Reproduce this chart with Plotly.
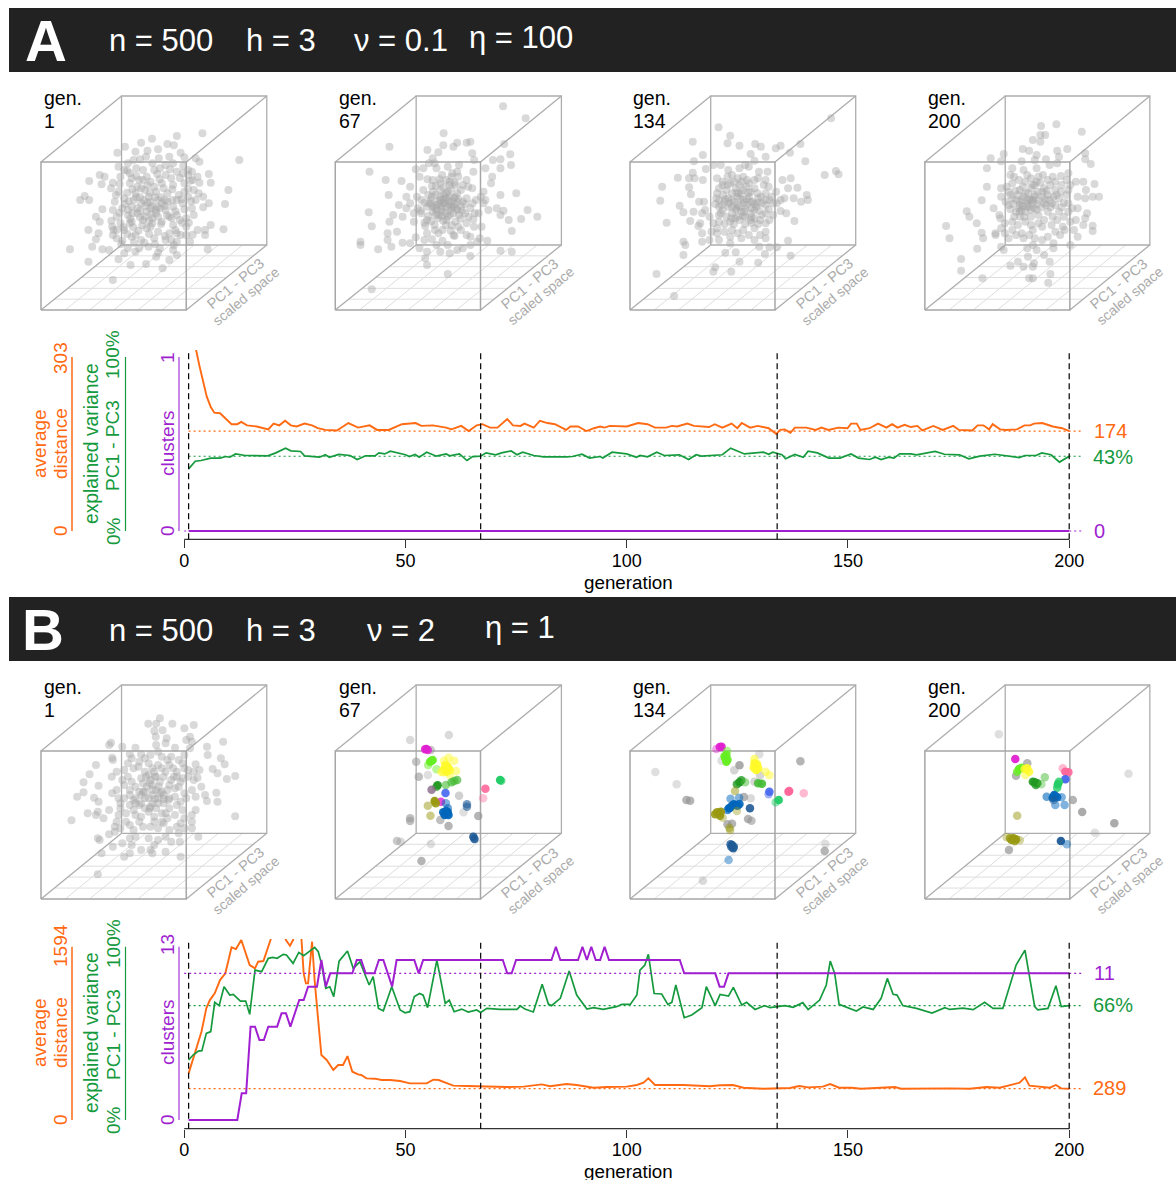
import plotly.graph_objects as go

W, H = 1176, 1180
ORANGE, GREEN, PURPLE = "#FF6A13", "#169A3E", "#A01FD0"
FONT = "Liberation Sans"

generations = [1, 67, 134, 200]
x_ticks = [0, 50, 100, 150, 200]

a_distance = [(1,420),(2,360),(2.7,315),(3.4,289),(4.3,257),(5.1,234),(6,216),(6.8,206),(8.1,205),(9.4,196),(10.7,186),(12,186),(12.9,190),(14.2,184),(16.4,182),(19,177),(20.2,187),(21.5,184),(22.8,192),(24.1,184),(25.4,182),(27.2,187),(28.9,184),(30.2,179),(31.9,176),(34.5,175),(37.1,188),(39.3,180),(41.9,184),(43.6,176),(46.2,176),(49.2,186),(52.3,188),(53.6,183),(56.2,184),(59.2,180),(60.4,177),(62.6,183),(64.3,174),(66.1,184),(67.4,186),(69.1,180),(70.8,180),(73,195),(74.3,184),(76,183),(76.9,187),(79,180),(80.4,192),(82.1,188),(83.8,186),(86.3,176),(87.3,182),(89,182),(90.9,174),(92.6,179),(94,182),(95,180),(96.2,183),(100,182),(102.6,188),(104.7,186),(106.4,180),(108.9,180),(110.2,183),(111.4,182),(113.7,187),(115.2,183),(118.6,181),(119.9,186),(121.6,180),(123.7,187),(125,179),(126,188),(127.9,180),(129.6,183),(132.1,179),(133.8,169),(134.7,176),(135.7,177),(137,171),(138,180),(140.6,180),(142.7,176),(144,180),(145.6,176),(147.8,180),(149.9,179),(150.7,187),(152,187),(152.8,176),(154.9,179),(156.8,187),(158.7,180),(160,186),(161.2,180),(162.8,185),(164.2,181),(165.7,183),(166.8,175),(169.3,183),(171.4,176),(173.8,183),(175.1,176),(178.1,175),(179.3,184),(180.6,184),(181.9,177),(182.7,186),(184.4,177),(185.7,176),(188.2,177),(189.9,184),(191.2,184),(192,187),(193.9,188),(196.3,182),(198.4,179),(200,174)]
a_variance = [(1,35.7),(2.5,40.1),(3.8,40.5),(6,41.9),(8.1,41.9),(9.4,42.8),(10.3,42.4),(11.6,44.3),(13.8,43.4),(18.9,43.2),(20.7,44.9),(22.9,47.6),(24.1,46.1),(26.3,45.7),(27.2,43.2),(30.6,42.4),(31.9,43.8),(32.8,42.4),(34.9,44),(37.5,43.4),(39.1,41.1),(41,43.2),(43.1,43.2),(44,44.9),(45.3,44.3),(46.6,45.9),(50,43.8),(50.9,42.8),(52.2,44),(53.1,42.4),(54.8,45.3),(57,43),(59.2,44.3),(60,43.2),(62.2,44.3),(63.9,40.5),(65.2,42.8),(67,43),(68.2,44.9),(70.4,43.8),(71.7,44.9),(73.9,46),(75.2,43.8),(76.5,45.3),(79,43.4),(81.2,42.6),(86.4,42.6),(87.7,42.8),(89.9,44.1),(91.6,41.9),(94,42.8),(94.6,41.9),(96.7,45.3),(100,44.3),(102.2,42.4),(103,43.4),(104.7,42.6),(106.8,45.3),(108.5,43.4),(111.9,43.8),(114,41.1),(115.7,43.8),(116.9,43),(120.3,43.4),(121.6,43.8),(123.5,47.6),(126.6,44.3),(130.9,45.3),(132.1,44.1),(133,45.3),(135.1,43.8),(135.9,41.5),(138,44),(139.9,42.4),(141,45.9),(143.1,44.9),(145.7,41.9),(148.2,41.9),(150.7,44.3),(152.4,41.9),(154.9,41.1),(156.2,42.4),(157.5,41.1),(159.2,42.4),(160.4,41.9),(161.7,44.3),(164.2,44.3),(165.5,43.8),(169.7,45.7),(171.8,44.1),(175.2,43.8),(177.3,41.5),(179.8,43),(183.2,44.1),(188.7,42.2),(190,43.4),(192.5,43.4),(193.8,44.9),(195.9,43.8),(197.8,39.6),(200,43)]
a_clusters = [(1,0),(200,0)]

b_distance = [(1,429),(2,567),(3.9,812),(5,1027),(5.8,1103),(6.9,1165),(8.1,1287),(9.3,1349),(10.7,1588),(11.7,1572),(12.9,1655),(14.8,1425),(16,1395),(16.7,1456),(17.9,1462),(19.5,1655),(20.1,1762),(21,1900),(22,1750),(23,1655),(23.9,1603),(24.6,1655),(25.5,1800),(26.5,1664),(27,1349),(27.5,1257),(28,1257),(28.9,1640),(29.5,1272),(30.3,873),(31,598),(32.2,552),(33.7,460),(34.8,506),(35.9,506),(36.9,588),(38,444),(39.3,420),(40,414),(41.2,383),(43.1,380),(44.6,368),(46.5,368),(48.8,359),(51,337),(54.8,337),(56.3,371),(57.5,368),(60.8,316),(63.9,313),(69.1,307),(72.9,303),(76.7,307),(80.8,328),(82.7,310),(86.4,331),(88.7,322),(92.5,297),(95.5,303),(100,307),(102.3,322),(103.8,343),(104.9,383),(106.4,322),(110.5,322),(112.8,322),(118.8,310),(121.1,319),(124,322),(126.4,297),(130.9,288),(134.3,294),(136.9,294),(139,313),(141,300),(144.3,307),(146,331),(148,297),(150.8,297),(153,288),(158.7,300),(160.6,303),(162,288),(167,291),(173,291),(177.5,288),(181.3,303),(184.3,297),(188.8,343),(190,392),(191,316),(195.6,297),(197,322),(198.2,291),(200,288)]
b_variance = [(1,34.6),(2,37.5),(3.2,39.8),(4,40),(5,50),(6,51),(6.9,67.9),(7.9,66),(9,76.9),(10.3,72.1),(11.1,72.5),(12.7,68.6),(13.9,68.6),(14.8,61),(16,86.5),(17.5,85.6),(19,93.3),(20,93.8),(21,93.3),(22.4,95.6),(23.1,95.2),(24.6,90.4),(25.9,96.7),(27,94.8),(29.5,99.6),(30.3,97.1),(31,90.4),(32,76),(32.9,76.9),(33.8,71.2),(35,91.7),(36.9,97.5),(38.2,87.5),(39.7,91.3),(41.8,77.9),(42.7,82.7),(43.9,64.4),(45,63),(46.9,76.9),(48.8,63.5),(49.9,61.9),(51,62.5),(52,71.2),(53.2,73),(54,72),(55,64.8),(57.1,92.3),(59,67.3),(59.9,69.2),(61,62.5),(62.7,64),(64.2,62.3),(66.1,63.5),(67,62.1),(68.4,64.4),(71.4,63.8),(75.2,63.8),(76,65.8),(77,64),(78.9,62.3),(80.9,78.3),(82.3,66.9),(83,66),(85,70.2),(87,86),(88.7,72.1),(91,64),(92.5,64.8),(94.7,63.8),(97.7,65.4),(98.9,66.7),(100.8,66.7),(102.3,72.1),(103,86.5),(104.1,89.4),(104.9,95.6),(106.2,73),(107.9,72.7),(109.3,66.7),(110.2,67.9),(111.1,77.9),(113,59),(114.7,60.6),(117,64.8),(118,76.9),(120,66),(121.1,72.5),(123,71.5),(124.1,76.5),(126,66.3),(127.1,67.9),(129,63.8),(131.2,66),(132.4,64.8),(135.8,66),(137.6,65),(139.8,67.7),(141,63.7),(143.6,69.2),(145.1,77.9),(146,91.7),(147,84.6),(148,66.7),(151.9,62.9),(153.4,65.2),(155.7,63.8),(157.5,70.2),(158.9,81.7),(160.2,72.5),(161.1,72.1),(162.4,66),(165.5,64.4),(169,61.7),(171.9,64.8),(173,63.8),(176,64.6),(178.3,63.7),(180.9,67.9),(182.8,64.4),(185,64.4),(188,89.4),(190,98),(192.2,65.4),(192.9,63.5),(195.2,64.4),(197,77.5),(198.2,65.4),(200,66)]
b_clusters = [(1,0),(12,0),(13,2),(14,2),(15,7),(16,7),(17,6),(18,6),(19,7),(21,7),(22,8),(23,8),(24,7),(26,9),(27,9),(28,10),(30,10),(31,12),(32,10),(33,11),(38,11),(39,12),(40,12),(41,11),(43,11),(44,12),(45,12),(47,10),(48,12),(52,12),(53,11),(54,12),(72,12),(73,11),(74,11),(75,12),(83,12),(84,13),(85,12),(89,12),(90,13),(91,12),(92,13),(93,12),(94,12),(95,13),(96,12),(112,12),(113,11),(120,11),(121,10),(122,10),(123,11),(200,11)]

a1_points = [(538,400),(470,408),(404,416),(375,428),(332,440),(445,432),(462,436),(420,448),(392,452),(360,455),(312,458),(480,458),(388,470),(355,480),(422,475),(450,470),(490,472),(520,475),(636,480),(340,490),(315,500),(372,478),(405,490),(440,495),(460,490),(530,485),(510,515),(555,522),(265,525),(278,530),(237,543),(270,553),(300,548),(320,530),(345,520),(380,510),(410,510),(440,525),(470,515),(500,525),(525,530),(560,548),(607,570),(295,565),(315,575),(345,550),(370,540),(400,545),(430,550),(460,555),(490,550),(515,570),(540,590),(225,588),(213,600),(237,600),(305,605),(330,595),(360,580),(385,570),(415,575),(445,580),(475,585),(500,590),(520,600),(598,612),(555,610),(540,622),(272,628),(300,630),(325,625),(350,620),(375,610),(400,605),(430,610),(460,620),(485,610),(510,625),(255,650),(265,665),(310,650),(340,645),(365,640),(390,635),(415,640),(440,630),(470,645),(495,655),(515,645),(235,690),(298,680),(320,670),(350,665),(380,660),(405,670),(430,665),(460,675),(495,680),(525,690),(545,690),(560,675),(594,688),(262,700),(300,705),(330,690),(360,705),(390,685),(420,695),(450,700),(480,705),(545,705),(255,718),(310,715),(325,722),(350,710),(375,720),(410,715),(440,720),(470,725),(505,725),(186,748),(245,740),(272,748),(340,745),(370,745),(395,740),(425,745),(460,750),(552,748),(315,778),(235,785),(330,760),(360,755),(415,770),(470,765),(450,780),(347,795),(388,792),(432,805),(300,840),(290,750),
 (375,565),(395,590),(420,600),(445,605),(470,600),(490,575),(365,625),(385,650),(405,655),(425,625),(450,650),(400,625),(355,600),(410,560),(435,565),(455,535),(390,530),(365,560),(340,630),(400,680),(420,650),
 (338,512),(362,528),(418,522),(452,508),(487,498),(506,542),(530,548),(318,552),(352,568),(392,556),(424,538),(478,534),(500,566),(528,580),(308,585),(338,578),(372,592),(398,578),(428,592),(458,568),(482,598),(508,604),(332,612),(362,592),(386,618),(412,592),(438,618),(466,634),(490,628),(318,638),(346,656),(372,652),(396,662),(418,622),(444,646),(478,660),(502,668),(296,662),(328,682),(354,682),(378,676),(402,642),(428,672),(456,654),(484,668),(302,690),(338,702),(368,692),(396,702),(438,708),(466,690),(512,704),(322,732),(356,728),(384,728),(412,732),(462,735),(420,758),(382,600),(405,618),(352,640),(438,600),(372,632),(392,608),(414,630),(458,600),(342,604),(380,540),(350,535),(425,505),(486,520),(500,510),(362,505),(330,510),(512,540),(470,700),(345,670),(310,690),(455,720),(495,705)]
a2_points = [(1337,319),(1397,355),(1179,400),(1035,440),(1250,425),(1215,428),(1240,428),(1340,432),(1136,450),(1178,436),(1205,440),(1165,457),(1255,460),(1310,480),(1356,463),(1330,478),(1358,495),(1150,475),(1140,490),(1105,508),(982,515),(1125,505),(1155,490),(1220,495),(1260,480),(1290,505),(1330,505),(1025,540),(1067,543),(1090,560),(1115,530),(1150,540),(1175,525),(1200,530),(1215,515),(1240,540),(1258,515),(1308,530),(1305,550),(1033,585),(1080,590),(1125,570),(1150,575),(1170,550),(1195,555),(1225,570),(1255,565),(1285,575),(1330,585),(1372,580),(1090,610),(1120,600),(1145,600),(1170,590),(1190,575),(1210,590),(1240,595),(1265,600),(1285,610),(1060,615),(980,637),(1080,625),(1110,625),(1135,620),(1160,615),(1180,610),(1200,605),(1225,620),(1250,625),(1298,630),(1320,625),(1338,632),(1402,630),(1045,645),(1120,640),(1150,635),(1175,635),(1195,630),(1220,645),(1245,650),(1272,640),(1330,645),(1352,660),(1385,657),(1428,650),(1035,665),(1070,650),(1100,665),(1135,660),(1165,655),(1190,650),(1210,665),(1240,670),(988,679),(1055,695),(1130,678),(1155,675),(1185,675),(1225,690),(1260,680),(1280,680),(1360,693),(1030,700),(1105,712),(1135,700),(1165,700),(1205,705),(1240,705),(958,725),(958,735),(1030,720),(1070,728),(1090,730),(1115,745),(1160,735),(1190,735),(1230,745),(1275,715),(1295,722),(1250,735),(1005,748),(1040,740),(1135,755),(1170,755),(1195,760),(1215,750),(1250,768),(1330,752),(1360,755),(1130,775),(1135,795),(1190,822),(988,868),
 (1165,605),(1185,595),(1205,620),(1150,620),(1175,620),(1195,615),(1215,605),(1160,630),(1185,640),(1205,640),(1170,570),(1195,545),(1210,555),(1165,645),(1140,610),(1215,630),(1180,585),(1230,605),
 (1168,538),(1186,540),(1202,520),(1218,530),(1230,555),(1158,558),(1178,562),(1198,568),(1215,580),(1138,585),(1158,584),(1178,598),(1196,590),(1218,598),(1236,612),(1128,608),(1148,590),(1168,612),(1188,620),(1208,612),(1228,632),(1256,610),(1118,632),(1138,648),(1156,624),(1174,648),(1196,644),(1214,626),(1236,640),(1258,658),(1128,668),(1146,664),(1178,662),(1200,676),(1218,680),(1156,690),(1176,690),(1198,692),(1208,708),(1250,710),(1148,718),(1128,720),(1176,722),(1268,725),(1108,590),(1100,640),(1262,640),(1278,590),(1290,600),(1148,558),(1136,538),(1160,505),(1190,500),(1208,548),(1244,560),(1182,608),(1172,628),(1192,602),(1206,594),(1186,660),(1158,644),(1224,656),(1146,612),(1186,580),(1170,600),(1200,622)]
a3_points = [(645,355),(344,382),(375,407),(275,425),(368,430),(400,437),(442,432),(457,440),(510,437),(563,432),(497,445),(535,458),(302,465),(430,462),(470,470),(278,484),(330,495),(350,495),(415,495),(440,482),(576,484),(310,507),(370,510),(400,505),(425,500),(475,515),(452,515),(628,525),(658,513),(665,523),(235,533),(265,535),(280,535),(302,540),(275,518),(340,535),(380,525),(410,530),(440,540),(470,540),(515,540),(537,535),(193,560),(265,562),(355,555),(385,545),(425,550),(465,555),(530,565),(270,583),(188,602),(292,605),(305,605),(340,580),(365,570),(390,565),(410,570),(440,565),(470,580),(498,575),(555,563),(580,585),(545,595),(565,605),(583,600),(240,617),(250,637),(277,635),(308,630),(345,600),(370,595),(395,590),(425,590),(450,595),(480,600),(520,595),(510,633),(525,640),(205,668),(268,663),(295,670),(345,620),(370,620),(395,615),(420,615),(445,620),(470,615),(547,663),(290,678),(340,685),(350,640),(380,640),(405,635),(430,640),(460,645),(490,645),(300,700),(340,700),(375,665),(400,660),(430,660),(470,670),(250,725),(255,735),(300,725),(320,720),(345,720),(380,690),(410,690),(440,685),(470,695),(375,710),(405,715),(440,720),(530,722),(375,730),(470,715),(250,765),(453,740),(480,742),(500,742),(390,757),(362,758),(400,785),(468,762),(537,767),(450,788),(335,802),(330,815),(378,815),(178,822),(225,888),
 (360,605),(385,605),(410,600),(435,605),(460,610),(380,580),(405,580),(430,575),(355,630),(390,630),(415,625),(440,630),(400,555),(375,550),(415,650),(440,655),(395,650),(470,600),(490,610),
 (355,545),(368,530),(395,535),(420,540),(450,535),(345,565),(368,555),(392,578),(418,560),(448,580),(478,560),(338,595),(356,585),(380,600),(402,598),(430,605),(458,590),(486,590),(335,612),(352,615),(372,610),(392,625),(412,608),(432,625),(452,632),(478,628),(500,610),(345,645),(365,650),(388,655),(410,648),(432,652),(455,660),(480,660),(360,672),(385,672),(415,672),(450,672),(345,665),(300,640),(320,650),(330,670),(360,695),(395,700),(425,705),(455,705),(325,695),(510,600),(470,640),(400,620),(420,598),(380,620),(440,612),(362,598),(398,580),(424,578),(450,608),(412,635),(378,655),(432,668),(405,545)]
a4_points = [(1207,378),(1248,373),(1205,405),(1218,405),(1316,395),(1205,425),(1185,420),(1158,447),(1175,452),(1195,465),(1250,452),(1277,447),(1325,460),(1107,462),(1072,475),(1325,478),(1340,492),(1100,484),(1155,484),(1190,480),(1220,478),(1255,470),(1062,505),(1130,505),(1160,510),(1195,505),(1230,495),(1250,490),(1125,525),(1170,525),(1200,530),(1225,540),(1280,520),(1320,545),(1350,552),(1062,560),(1100,565),(1130,550),(1165,545),(1195,545),(1245,545),(1275,540),(1300,545),(1327,570),(1120,575),(1150,570),(1180,565),(1215,565),(1245,570),(1280,570),(1100,590),(1130,595),(1160,590),(1190,590),(1225,585),(1255,595),(1305,590),(1325,595),(1345,590),(1362,590),(1048,601),(1080,625),(1120,615),(1150,615),(1185,610),(1215,610),(1245,615),(1280,610),(1305,625),(1008,634),(1015,650),(1095,645),(1140,635),(1165,635),(1195,630),(1225,635),(1255,635),(1280,635),(1330,640),(1098,655),(1150,650),(1180,650),(1215,660),(1250,660),(1300,660),(1325,655),(1035,670),(953,678),(1130,665),(1180,675),(1210,680),(1320,675),(1345,677),(1048,698),(1085,700),(1100,685),(1130,690),(1155,700),(1185,690),(1245,695),(1270,690),(1295,690),(1345,693),(962,715),(1052,715),(1085,705),(1120,715),(1160,715),(1190,715),(1210,720),(1240,730),(1305,710),(1100,740),(1185,735),(1240,745),(1285,735),(1036,746),(1107,750),(1170,745),(1195,750),(1172,770),(1215,765),(1230,785),(993,777),(1125,797),(1145,785),(1160,800),(1185,800),(1188,790),(993,812),(1050,835),(1175,835),(1185,835),(1232,822),(1226,848),
 (1140,600),(1170,600),(1200,600),(1230,600),(1155,630),(1175,620),(1210,575),(1190,555),(1165,580),(1240,590),(1260,575),(1150,605),(1180,630),
 (1135,530),(1148,540),(1180,535),(1212,525),(1238,530),(1260,528),(1115,560),(1138,572),(1158,560),(1185,555),(1205,548),(1232,555),(1262,555),(1285,555),(1125,585),(1145,585),(1172,578),(1198,575),(1222,572),(1248,585),(1275,585),(1112,605),(1132,612),(1156,600),(1176,598),(1196,612),(1218,598),(1236,610),(1268,608),(1125,628),(1148,625),(1170,612),(1188,625),(1208,622),(1232,622),(1262,622),(1290,625),(1135,650),(1162,650),(1200,645),(1238,650),(1268,650),(1145,675),(1165,665),(1200,670),(1235,675),(1285,665),(1110,670),(1265,680),(1110,700),(1140,705),(1175,705),(1225,710),(1258,705),(1180,600),(1158,618),(1220,615),(1190,585),(1150,635),(1168,620),(1185,600),(1210,590)]
b1_points = [(425,370),(394,386),(415,386),(458,386),(490,400),(515,390),(410,408),(432,406),(295,443),(290,450),(443,430),(495,435),(505,425),(414,425),(593,440),(510,440),(325,455),(360,458),(415,450),(440,445),(465,458),(505,460),(550,455),(375,478),(345,478),(298,488),(300,495),(400,480),(430,485),(455,485),(490,480),(552,480),(587,490),(255,510),(340,505),(370,500),(395,505),(420,510),(450,510),(485,505),(520,508),(565,522),(597,508),(238,538),(310,530),(355,520),(385,530),(410,530),(440,530),(470,530),(500,525),(530,525),(578,535),(625,543),(222,562),(262,572),(297,545),(340,545),(375,550),(400,555),(425,560),(455,555),(485,550),(515,555),(603,552),(222,592),(205,605),(250,608),(298,595),(330,570),(360,575),(390,575),(415,585),(445,585),(475,575),(510,585),(535,575),(575,593),(262,620),(315,610),(345,600),(375,600),(405,600),(435,600),(465,605),(495,610),(545,600),(550,618),(578,620),(233,655),(260,650),(290,645),(320,640),(345,630),(375,625),(405,625),(435,625),(470,630),(520,645),(190,676),(255,660),(275,670),(315,660),(360,660),(395,650),(430,655),(465,660),(510,660),(625,664),(305,695),(345,690),(370,680),(410,680),(435,685),(480,685),(510,680),(290,718),(320,700),(355,705),(400,695),(450,705),(490,700),(260,730),(265,735),(305,710),(345,730),(395,730),(440,725),(475,715),(527,725),(410,750),(325,745),(478,740),(300,755),(350,750),(375,765),(400,765),(440,770),(270,775),(330,785),(345,775),(405,775),(480,785),(260,838),
 (395,540),(415,545),(470,545),(380,565),(405,570),(430,590),(450,610),(370,630),(400,635),(420,610),(385,590),(480,560),(430,680),(360,610),
 (350,490),(385,490),(420,470),(445,495),(475,495),(330,525),(368,515),(405,520),(430,520),(460,520),(490,520),(515,530),(325,555),(350,560),(388,545),(412,545),(435,545),(462,545),(500,545),(525,548),(310,585),(345,585),(370,590),(398,565),(422,575),(450,570),(490,595),(520,605),(330,610),(355,615),(385,610),(412,612),(448,615),(480,620),(320,625),(355,645),(385,640),(415,640),(450,640),(485,645),(335,655),(375,665),(410,665),(445,670),(490,670),(335,680),(380,695),(420,700),(470,695),(510,700),(310,680),(360,725),(420,735),(455,740),(395,610),(405,585),(435,612),(380,590),(420,625),(398,640),(360,625),(440,655),(425,595),(465,580)]

# x, y, hue, alpha
b2_points = [(1193,420,"g",.35),(1090,435,"g",.35),(1145,465,"g",.5),(1106,500,"g",.55),(1113,545,"g",.6),(1137,540,"g",.3),(1220,602,"g",.45),(1271,663,"g",.7),(1170,675,"g",.6),(1192,693,"g",.7),(1090,670,"g",.6),(1090,678,"g",.6),(1055,738,"g",.5),(1065,740,"g",.35),(1145,747,"g",.3),(1120,798,"g",.7),(1232,652,"g",.3),
 (1258,725,"n",.9),(1261,732,"n",.9),(1241,628,"n",.6),(1241,635,"n",.6),
 (1133,462,"m",.9),(1137,465,"m",.8),(1130,463,"m",.9),(1172,620,"m",.8),
 (1147,497,"l",.95),(1150,495,"l",.9),(1143,500,"l",.9),(1138,510,"l",.5),(1160,523,"l",.45),
 (1187,520,"y",.95),(1187,530,"y",.95),(1180,522,"y",.8),(1192,518,"y",.8),(1183,510,"y",.8),(1195,525,"y",.8),(1188,512,"y",.8),(1178,532,"y",.6),(1192,488,"y",.5),(1207,497,"y",.5),(1212,528,"y",.5),(1180,497,"y",.5),(1172,530,"y",.5),(1195,540,"y",.5),
 (1200,562,"e",.7),(1215,555,"e",.7),(1207,558,"e",.7),(1185,570,"e",.6),(1163,571,"d",.95),(1160,575,"d",.7),
 (1329,555,"t",.95),(1332,557,"t",.7),(1147,584,"p",.8),(1184,594,"r",.9),
 (1155,618,"o",.95),(1158,625,"o",.9),(1137,632,"o",.5),(1144,662,"o",.5),
 (1185,655,"b",.95),(1182,660,"b",.95),(1190,652,"b",.95),(1178,652,"b",.95),(1192,660,"b",.95),(1186,648,"b",.9),(1185,625,"b",.5),(1190,640,"b",.6),
 (1290,581,"k",.9),(1284,610,"k",.4)]
b3_points = [(175,531,"g",.3),(232,568,"g",.3),(258,615,"g",.7),(268,617,"g",.7),(563,499,"g",.7),(453,478,"g",.3),(400,511,"g",.8),(386,526,"g",.4),(352,497,"g",.3),(455,541,"g",.4),(440,560,"g",.4),(430,610,"g",.35),(412,606,"g",.7),(423,672,"g",.7),(432,677,"g",.6),(368,688,"g",.7),(380,686,"g",.7),(630,747,"g",.3),(628,768,"g",.7),(302,857,"g",.35),
 (352,455,"m",.95),(347,456,"m",.9),(338,462,"m",.4),
 (365,480,"l",.9),(362,490,"l",.95),(365,500,"l",.95),(367,468,"l",.5),(360,484,"l",.9),(368,494,"l",.9),
 (445,515,"y",.95),(445,525,"y",.95),(440,505,"y",.9),(450,520,"y",.9),(438,518,"y",.9),(447,508,"y",.9),(440,492,"y",.6),(470,530,"y",.5),(480,541,"y",.5),
 (400,562,"d",.95),(393,568,"d",.8),(405,556,"d",.8),
 (460,566,"e",.9),(450,565,"e",.9),(415,562,"e",.5),
 (480,590,"r",.9),(478,598,"r",.5),(533,588,"k",.95),(531,590,"k",.9),(572,595,"k",.45),
 (505,615,"t",.95),(497,622,"t",.5),
 (390,630,"b",.95),(380,632,"b",.95),(400,627,"b",.9),(375,638,"b",.9),(385,628,"b",.95),(395,632,"b",.9),(372,640,"b",.9),(368,645,"b",.7),(376,611,"b",.5),(399,608,"b",.5),
 (428,640,"n",.9),(380,750,"n",.9),(378,755,"n",.8),(383,760,"n",.9),(376,748,"n",.8),(385,755,"n",.8),(371,795,"b",.45),
 (345,655,"o",.95),(350,650,"o",.95),(335,658,"o",.9),(340,652,"o",.9),(348,662,"o",.9),(355,668,"o",.4),(388,588,"o",.5),(393,648,"o",.4),(375,705,"o",.5),(373,698,"o",.5)]
b4_points = [(1094,418,"g",.3),(1441,536,"g",.3),(1170,505,"g",.7),(1140,542,"g",.7),(1292,615,"g",.7),(1317,651,"g",.8),(1403,685,"g",.8),(1351,713,"g",.3),(1121,765,"g",.7),
 (1138,492,"m",.95),(1148,522,"l",.95),(1155,518,"l",.9),(1143,530,"l",.8),
 (1170,520,"y",.9),(1175,530,"y",.8),(1163,522,"y",.8),(1165,540,"y",.5),
 (1190,562,"d",.95),(1197,565,"d",.9),(1185,560,"d",.9),(1193,570,"d",.8),(1208,568,"e",.4),(1217,547,"e",.5),
 (1272,530,"k",.95),(1280,532,"k",.9),(1265,520,"k",.45),(1272,553,"r",.95),
 (1252,568,"t",.95),(1250,578,"t",.8),(1255,560,"t",.8),
 (1245,603,"b",.95),(1238,608,"b",.95),(1242,600,"b",.95),(1250,607,"b",.9),(1222,605,"b",.6),(1262,607,"b",.5),(1270,630,"b",.5),(1245,630,"b",.5),(1240,615,"n",.5),
 (1133,730,"o",.95),(1128,735,"o",.9),(1140,733,"o",.9),(1124,730,"o",.8),(1137,738,"o",.8),(1115,727,"o",.4),(1150,736,"o",.4),(1143,662,"o",.5),
 (1260,738,"n",.95),(1276,748,"b",.45)]

hues = {"g":(150,150,150),"n":(30,90,150),"m":(224,32,208),"l":(102,238,34),"y":(255,250,40),"e":(68,187,51),"d":(34,153,34),"t":(34,204,102),"p":(136,102,136),"r":(68,102,238),"o":(153,153,17),"b":(0,102,187),"k":(255,102,153)}

a1_cube = [(109,930),(495,486),(323,735),(709,288)]
a2_cube = [(891,930),(1277,486),(1106,735),(1492,288)]
a3_cube = [(107,930),(495,486),(323,735),(711,288)]
a4_cube = [(896,930),(1284,486),(1111,735),(1498,288)]
b1_cube = [(109,912),(495,468),(323,715),(709,270)]
b2_cube = [(891,912),(1277,468),(1106,715),(1492,270)]
b3_cube = [(107,912),(495,468),(323,715),(711,270)]
b4_cube = [(896,912),(1284,468),(1111,715),(1498,270)]

fig = go.Figure()
layout = dict(width=W, height=H, margin=dict(l=0, r=0, t=0, b=0), plot_bgcolor="white", paper_bgcolor="white",
              showlegend=False, hovermode=False, shapes=[], annotations=[])
X = lambda p: p / W
Y = lambda p: 1 - p / H

def txt(px, py, s, size=19, color="black", angle=0, anchor="center", bold=False):
    layout["annotations"].append(dict(xref="paper", yref="paper", x=X(px), y=Y(py), text=("<b>%s</b>" % s if bold else s),
        showarrow=False, xanchor=anchor, yanchor="middle", textangle=angle, font=dict(family=FONT, size=size, color=color)))

def hidden(**k):
    return dict(visible=False, fixedrange=True, **k)

def series_panel(xname, ynames, top, bottom, zero, full, maxes, dist, var, clu, refs):
    suf = lambda n: n[1:] if len(n) > 1 else ""
    x0 = 170; x1 = 1090; u = 885 / 200
    layout["xaxis" + suf(xname)] = dict(domain=[X(x0), X(x1)], range=[(x0 - 184.2) / u, (x1 - 184.2) / u], anchor=ynames[0], showgrid=False,
        zeroline=False, showline=False, tickmode="array", tickvals=x_ticks, ticks="outside", ticklen=8, tickwidth=1.2, tickcolor="#333",
        ticklabelstandoff=-3, tickfont=dict(family=FONT, size=18, color="black"))
    for i, (yn, m) in enumerate(zip(ynames, maxes)):
        per = m / (zero - full)
        d = dict(domain=[Y(bottom), Y(top)], range=[-(bottom - zero) * per, (zero - top) * per], visible=False, fixedrange=True)
        if i:
            d.update(overlaying=ynames[0], anchor=xname)
        else:
            d.update(anchor=xname)
        layout["yaxis" + suf(yn)] = d
    layout["shapes"].append(dict(type="line", xref=xname, yref="paper", x0=0, x1=200, y0=Y(bottom), y1=Y(bottom), line=dict(color="#333", width=1.2)))
    for g in generations:
        layout["shapes"].append(dict(type="line", xref=xname, yref="paper", x0=g, x1=g, y0=Y(bottom), y1=Y(top), line=dict(color="black", width=1.2, dash="6px,4px")))
    for yn, c, lw, px, m in zip(ynames, (ORANGE, GREEN, "#C987E8"), (1.5, 1.2, 2), (72, 125.5, 179), maxes):
        layout["shapes"].append(dict(type="line", xref="paper", yref=yn, x0=X(px), x1=X(px), y0=0, y1=m, line=dict(color=c, width=lw)))
    cols = (ORANGE, GREEN, PURPLE)
    for yn, c, v, st in zip(ynames, cols, refs, (1, 1, 0)):
        fig.add_trace(go.Scatter(x=[st, 203], y=[v, v], xaxis=xname, yaxis=yn, mode="lines", line=dict(color=c, width=1.1, dash="2px,3px")))
    for yn, c, s, lw in ((ynames[2], PURPLE, clu, 2), (ynames[0], ORANGE, dist, 1.9), (ynames[1], GREEN, var, 1.7)):
        fig.add_trace(go.Scatter(x=[p[0] for p in s], y=[p[1] for p in s], xaxis=xname, yaxis=yn, mode="lines", line=dict(color=c, width=lw)))

series_panel("x", ["y", "y2", "y3"], 350, 539.3, 531, 357, (303, 100, 1), a_distance, a_variance, a_clusters, (174, 43, 0))
series_panel("x2", ["y4", "y5", "y6"], 939, 1128.7, 1120, 946.7, (1594, 100, 13), b_distance, b_variance, b_clusters, (289, 66, 11))

def cube_frame(n, xr, yr, dom_x, dom_y):
    layout["xaxis%d" % n] = hidden(domain=dom_x, range=xr, anchor="y%d" % (n + 4))
    layout["yaxis%d" % (n + 4)] = hidden(domain=dom_y, range=yr, anchor="x%d" % n)

cube_frame(3, [0, 1568], [1020, 0], [0, X(590)], [Y(340), Y(0)])
cube_frame(4, [0, 1568], [1020, 0], [X(590), 1], [Y(340), Y(0)])
cube_frame(5, [0, 1568], [975, 0], [0, X(590)], [Y(920), Y(595)])
cube_frame(6, [0, 1568], [975, 0], [X(590), 1], [Y(920), Y(595)])

def draw_cube(n, cube):
    (fx0, fy0), (fx1, fy1), (bx0, by0), (bx1, by1) = cube
    xa, ya = "x%d" % n, "y%d" % (n + 4)
    gx, gy = [], []
    for k in range(1, 6):
        f = k / 6
        gx += [fx0 + f * (fx1 - fx0), bx0 + f * (bx1 - bx0), None]
        gy += [fy0, by0, None]
        gx += [fx0 + f * (bx0 - fx0), fx1 + f * (bx1 - fx1), None]
        gy += [fy0 + f * (by0 - fy0), fy0 + f * (by0 - fy0), None]
    fig.add_trace(go.Scatter(x=gx, y=gy, xaxis=xa, yaxis=ya, mode="lines", line=dict(color="#DEDEDE", width=1)))
    ex = [bx0, bx1, bx1, bx0, bx0, None, bx0, fx0, None, bx1, fx1, None, fx1, bx1, None, fx0, bx0]
    ey = [by0, by0, by1, by1, by0, None, by1, fy1, None, by1, fy1, None, fy0, by0, None, fy0, by0]
    fig.add_trace(go.Scatter(x=ex, y=ey, xaxis=xa, yaxis=ya, mode="lines", line=dict(color="#ADADAD", width=1.3)))
    fig.add_trace(go.Scatter(x=[fx0, fx1, fx1, fx0, fx0], y=[fy0, fy0, fy1, fy1, fy0], xaxis=xa, yaxis=ya, mode="lines", line=dict(color="#A6A6A6", width=1.5)))

def grey(n, pts):
    fig.add_trace(go.Scatter(x=[p[0] for p in pts], y=[p[1] for p in pts], xaxis="x%d" % n, yaxis="y%d" % (n + 4), mode="markers",
        marker=dict(size=8, color="rgba(165,165,165,0.42)", line=dict(width=0))))

def colored(n, pts):
    cs = ["rgba(%d,%d,%d,%.2f)" % (*hues[p[2]], p[3]) for p in pts]
    fig.add_trace(go.Scatter(x=[p[0] for p in pts], y=[p[1] for p in pts], xaxis="x%d" % n, yaxis="y%d" % (n + 4), mode="markers",
        marker=dict(size=8.5, color=cs, line=dict(width=0))))

for n, cube, pts in ((3, a1_cube, a1_points), (3, a2_cube, a2_points), (4, a3_cube, a3_points), (4, a4_cube, a4_points), (5, b1_cube, b1_points)):
    draw_cube(n, cube); grey(n, pts)
for n, cube, pts in ((5, b2_cube, b2_points), (6, b3_cube, b3_points), (6, b4_cube, b4_points)):
    draw_cube(n, cube); colored(n, pts)

layout["shapes"].append(dict(type="rect", xref="paper", yref="paper", x0=X(9), x1=1, y0=Y(72), y1=Y(8), fillcolor="#222222", line=dict(width=0), layer="below"))
layout["shapes"].append(dict(type="rect", xref="paper", yref="paper", x0=X(9), x1=1, y0=Y(661), y1=Y(597), fillcolor="#222222", line=dict(width=0), layer="below"))

txt(46, 40, "A", 58, "white", bold=True)
txt(43, 629, "B", 58, "white", bold=True)
for s, px, py in (("n = 500", 161, 41), ("h = 3", 281, 41), ("\u03bd = 0.1", 401, 41), ("\u03b7 = 100", 521, 37),
                  ("n = 500", 161, 630), ("h = 3", 281, 630), ("\u03bd = 2", 401, 630), ("\u03b7 = 1", 520, 627)):
    txt(px, py, s, 31, "white")

for oy in (0, 589):
    for dx, g in zip((0, 294.5, 589, 883.5), ("1", "67", "134", "200")):
        txt(42 + dx, 98 + oy, "gen.", 19.5, anchor="left")
        txt(42 + dx, 121 + oy, g, 19.5, anchor="left")
        txt(235 + dx, 284 + oy, "PC1 - PC3", 14.5, "#ABABAB", angle=-40)
        txt(246 + dx, 296 + oy, "scaled space", 14, "#ABABAB", angle=-40)
    txt(628, 582 + oy, "generation", 18.8)

for oy, top, tpy in ((0, "303", 358), (589, "1594", 946)):
    txt(60, tpy, top, 19, ORANGE, angle=-90)
    txt(60, 531 + oy, "0", 19, ORANGE, angle=-90)
    txt(39, 444 + oy, "average", 19, ORANGE, angle=-90)
    txt(60, 444 + oy, "distance", 19, ORANGE, angle=-90)
    txt(91, 444 + oy, "explained variance", 19.3, GREEN, angle=-90)
    txt(113, 446 + oy, "PC1 - PC3", 19, GREEN, angle=-90)
    txt(113, 355 + oy, "100%", 19, GREEN, angle=-90)
    txt(113, 531 + oy, "0%", 19, GREEN, angle=-90)
    txt(167, 444 + oy, "clusters", 19, PURPLE, angle=-90)
    txt(167, 531 + oy, "0", 19, PURPLE, angle=-90)
txt(167, 358, "1", 19, PURPLE, angle=-90)
txt(167, 945, "13", 19, PURPLE, angle=-90)

txt(1092, 431, "174", 20, ORANGE, anchor="left")
txt(1091, 457, "43%", 20, GREEN, anchor="left")
txt(1092, 531, "0", 20, PURPLE, anchor="left")
txt(1092, 973, "11", 20, PURPLE, anchor="left")
txt(1091, 1005, "66%", 20, GREEN, anchor="left")
txt(1091, 1088, "289", 20, ORANGE, anchor="left")

fig.update_layout(**layout)
fig.write_html("out.html", post_script="document.body.style.margin='0';", config={"displayModeBar": False})
